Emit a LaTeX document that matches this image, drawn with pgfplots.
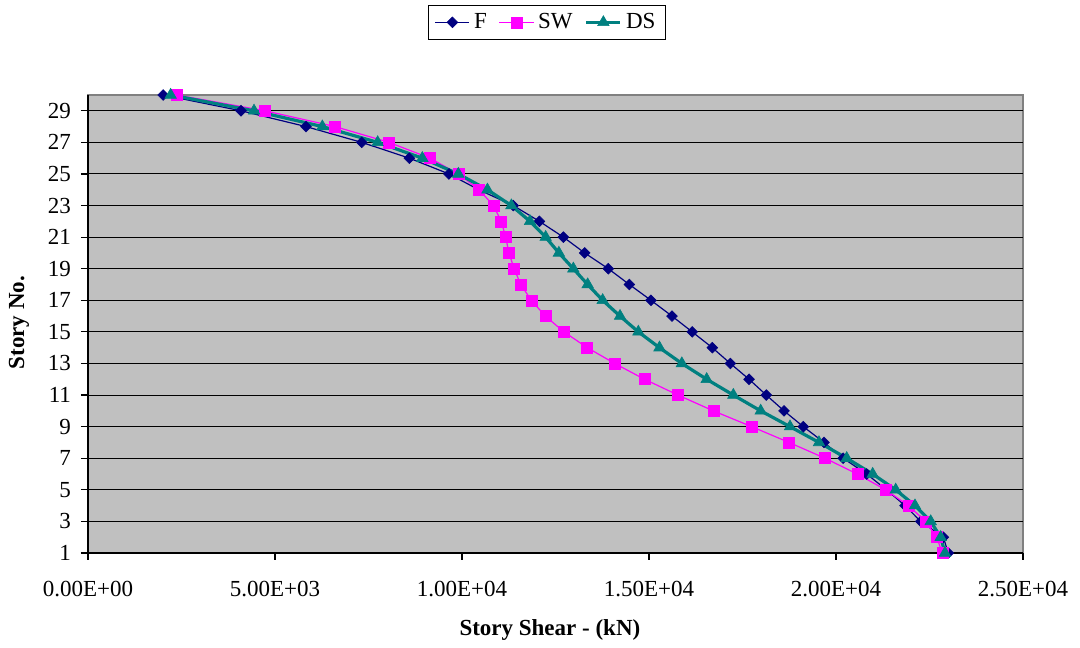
\documentclass[border=0pt]{standalone}
\usepackage{pgfplots}
\pgfplotsset{compat=1.18}
\usepackage{fontspec}
\setmainfont{Liberation Serif}
\definecolor{fnavy}{HTML}{000080}
\definecolor{swmag}{HTML}{FF00FF}
\definecolor{dsteal}{HTML}{008080}
\definecolor{bggray}{HTML}{C0C0C0}
\definecolor{bordergray}{HTML}{808080}
\begin{document}
\begin{tikzpicture}
\begin{axis}[
  scale only axis,
  width=467.5pt, height=229pt,
  xmin=0, xmax=25000, ymin=1, ymax=30,
  clip=false,
  font=\fontsize{11.5}{13}\selectfont,
  /pgf/number format/assume math mode=true,
  xtick={0,5000,10000,15000,20000,25000},
  xticklabels={0.00E+00,5.00E+03,1.00E+04,1.50E+04,2.00E+04,2.50E+04},
  ytick={1,3,5,7,9,11,13,15,17,19,21,23,25,27,29},
  yticklabels={1,3,5,7,9,11,13,15,17,19,21,23,25,27,29},
  scaled x ticks=false,
  axis x line*=bottom, axis y line*=left,
  axis line style={black, line width=0.6pt, -},
  axis background/.style={fill=bggray, draw=bordergray, line width=0.6pt},
  tick align=outside, major tick length=3.5pt,
  tick style={black, line width=0.6pt},
  ymajorgrids, grid style={black, line width=0.5pt},
  xticklabel style={yshift=-7pt},
  yticklabel style={xshift=-1.5pt},
  xlabel={\textbf{Story Shear - (kN)}},
  ylabel={\textbf{Story No.}},
  xlabel style={at={(axis description cs:0.494,-0.168)}, anchor=center},
  ylabel style={at={(axis description cs:-0.0738,0.503)}, anchor=center},
  legend columns=3,
  legend style={at={(axis description cs:0.491,1.12)}, anchor=south,
    draw=black, line width=0.6pt, fill=white,
    font=\fontsize{11.5}{13}\selectfont,
    /tikz/every even column/.append style={column sep=4pt}},
  legend cell align=left,
]
\addplot[color=fnavy, line width=0.6pt, mark=square*, mark size=1.9pt,
  mark options={rotate=45, fill=fnavy, draw=fnavy, line width=0.3pt}]
coordinates {
(23000,1) (22870,2) (22265,3) (21845,4) (21350,5) (20820,6) (20190,7)
(19679,8) (19126,9) (18610,10) (18136,11) (17675,12) (17175,13) (16693,14)
(16155,15) (15615,16) (15053,17) (14474,18) (13912,19) (13280,20) (12710,21)
(12070,22) (11370,23) (10450,24) (9652,25) (8592,26) (7318,27) (5829,28)
(4091,29) (2010,30)};
\addlegendentry{F}
\addplot[color=swmag, line width=0.6pt, mark=square*, mark size=2.75pt,
  mark options={fill=swmag, draw=swmag, line width=0.3pt}]
coordinates {
(22843,1) (22692,2) (22398,3) (21934,4) (21328,5) (20570,6) (19706,7)
(18743,8) (17745,9) (16720,10) (15775,11) (14880,12) (14083,13) (13350,14)
(12727,15) (12228,16) (11854,17) (11570,18) (11395,19) (11255,20) (11168,21)
(11050,22) (10838,23) (10460,24) (9902,25) (9144,26) (8048,27) (6604,28)
(4733,29) (2370,30)};
\addlegendentry{SW}
\addplot[color=dsteal, line width=1.6pt, mark=triangle*, mark size=3.3pt,
  mark options={fill=dsteal, draw=dsteal, line width=0.3pt}]
coordinates {
(22914,1) (22799,2) (22532,3) (22112,4) (21596,5) (20980,6) (20286,7)
(19545,8) (18770,9) (17986,10) (17255,11) (16542,12) (15878,13) (15280,14)
(14715,15) (14225,16) (13761,17) (13360,18) (12977,19) (12590,20) (12237,21)
(11818,22) (11320,23) (10680,24) (9902,25) (8939,26) (7745,27) (6266,28)
(4439,29) (2210,30)};
\addlegendentry{DS}
\end{axis}
\path (current axis.south west) ++(-44pt,-46.5pt) coordinate (bbA);
\path (current axis.north east) ++(28.5pt,47.5pt) coordinate (bbB);
\path[use as bounding box] (bbA) rectangle (bbB);
\end{tikzpicture}
\end{document}
